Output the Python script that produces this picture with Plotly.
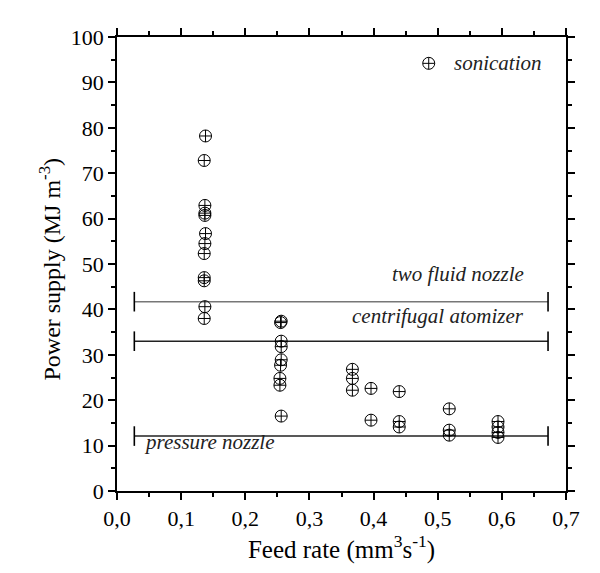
import plotly.graph_objects as go

# Data: feed rate (mm^3/s) and power supply (MJ/m^3)
feed_rate = [0.138, 0.136, 0.137, 0.137, 0.137, 0.138, 0.137, 0.136, 0.136, 0.136, 0.137, 0.136,
             0.256, 0.255, 0.256, 0.256, 0.256, 0.255, 0.254, 0.254, 0.256,
             0.367, 0.367, 0.367,
             0.396, 0.396,
             0.440, 0.440, 0.440,
             0.518, 0.518, 0.518,
             0.594, 0.594, 0.594, 0.594]
power = [78.2, 72.8, 62.9, 61.2, 60.7, 56.7, 54.5, 52.3, 47.0, 46.3, 40.6, 38.0,
         37.4, 37.1, 33.0, 31.8, 28.9, 27.7, 24.8, 23.3, 16.5,
         26.8, 24.8, 22.2,
         22.6, 15.6,
         21.9, 15.3, 14.1,
         18.1, 13.4, 12.3,
         15.3, 14.1, 12.9, 11.8]

sonication_x = [0.486]
sonication_y = [94.2]

range_names = ["two fluid nozzle", "centrifugal atomizer", "pressure nozzle"]
range_start = [0.027, 0.027, 0.027]
range_end = [0.672, 0.672, 0.672]
range_level = [41.7, 33.0, 12.1]

x_title = "Feed rate (mm<sup>3</sup>s<sup>-1</sup>)"
y_title = "Power supply (MJ m<sup>-3</sup>)"

SERIF = "Liberation Serif, Times New Roman, Times, serif"

fig = go.Figure()

marker_style = dict(symbol="circle-cross-open", size=12, color="black", line=dict(width=1))

for name, x0, x1, yv in zip(range_names, range_start, range_end, range_level):
    col = "#777777" if name == "two fluid nozzle" else "#222222"
    fig.add_trace(go.Scatter(x=[x0, x1], y=[yv, yv], mode="lines",
                             line=dict(color=col, width=1.4), showlegend=False,
                             hoverinfo="skip"))
    fig.add_trace(go.Scatter(x=[x0, x1], y=[yv, yv], mode="markers",
                             marker=dict(symbol="line-ns", size=14, color="black",
                                         line=dict(width=1.6, color="black")),
                             showlegend=False, hoverinfo="skip"))

fig.add_trace(go.Scatter(x=feed_rate, y=power, mode="markers", marker=marker_style,
                         showlegend=False))
fig.add_trace(go.Scatter(x=sonication_x, y=sonication_y, mode="markers", marker=marker_style,
                         showlegend=False))

ann_font = dict(family=SERIF, size=21, color="#222222")
annotations = [
    dict(x=0.522, y=94.2, text="<i>sonication</i>", xanchor="left", yanchor="middle"),
    dict(x=0.638, y=47.7, text="<i>two fluid nozzle</i>", xanchor="right", yanchor="middle"),
    dict(x=0.638, y=38.5, text="<i>centrifugal atomizer</i>", xanchor="right", yanchor="middle"),
    dict(x=0.0385, y=10.7, text="<i>pressure nozzle</i>", xanchor="left", yanchor="middle"),
]
for a in annotations:
    a.update(xref="x", yref="y", showarrow=False, font=ann_font)

annotations.append(dict(x=-0.149, y=0.488, xref="paper", yref="paper", text=y_title,
                        textangle=-90, showarrow=False, xanchor="center", yanchor="middle",
                        font=dict(family=SERIF, size=24, color="black")))

axis_common = dict(
    showline=True, linecolor="black", linewidth=1.5, mirror="allticks",
    ticks="outside", ticklen=7, tickwidth=1.5, tickcolor="black",
    showgrid=False, zeroline=False,
    tickfont=dict(family=SERIF, size=22, color="black"),
)

fig.update_layout(
    width=592, height=565,
    margin=dict(l=109, r=34, t=29, b=82),
    plot_bgcolor="white", paper_bgcolor="white",
    font=dict(family=SERIF),
    separators=", ",
    annotations=annotations,
    xaxis=dict(range=[0, 0.7], tickvals=[0, 0.1, 0.2, 0.3, 0.4, 0.5, 0.6, 0.7],
               tickformat=".1f",
               minor=dict(ticks="outside", ticklen=4, tickwidth=1.5, tickcolor="black",
                          dtick=0.05, showgrid=False),
               title=dict(text=x_title, standoff=6,
                          font=dict(family=SERIF, size=25, color="black")),
               **axis_common),
    yaxis=dict(range=[0, 100], dtick=10,
               minor=dict(ticks="outside", ticklen=4, tickwidth=1.5, tickcolor="black",
                          dtick=5, showgrid=False),
               **axis_common),
)

fig.write_html("out.html")
